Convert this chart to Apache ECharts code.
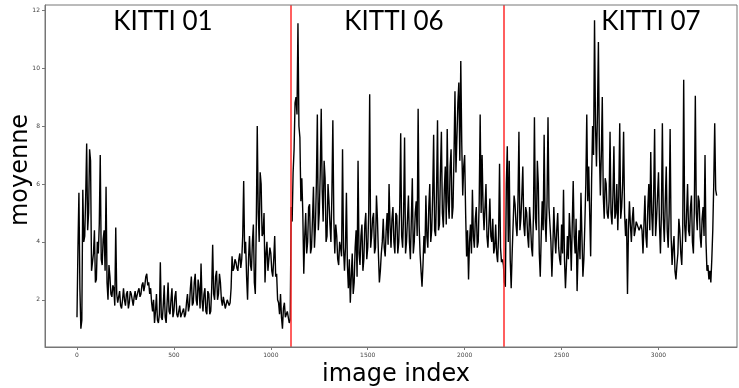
<!DOCTYPE html>
<html><head><meta charset="utf-8">
<script src="https://cdn.jsdelivr.net/npm/echarts@6/dist/echarts.min.js"></script>
<style>html,body{margin:0;padding:0;background:#fff}#c{width:739px;height:388px}</style>
</head><body><div id="c"></div>
<script>
const STEP = 5;
// KITTI 01: image index 0 .. 1100
const kitti01 = [1.4,3.8,5.7,2.4,1.0,1.3,5.8,4.0,4.2,5.6,7.4,4.4,5.0,7.2,6.8,3.0,3.0,3.6,4.4,2.6,
2.7,4.0,3.6,4.6,7.0,3.4,3.2,4.1,4.4,3.0,5.9,2.6,2.0,3.2,2.8,2.2,2.1,2.5,2.4,1.8,
4.5,2.2,1.9,2.1,2.3,1.8,1.7,2.0,2.4,2.0,1.8,2.2,2.3,1.7,1.9,2.3,2.2,2.0,1.8,2.1,
2.3,2.0,2.0,2.3,2.4,2.1,2.2,2.5,2.6,2.3,2.5,2.8,2.9,2.5,2.6,2.2,2.4,1.9,1.6,2.0,
1.2,1.6,2.2,1.3,1.2,1.5,3.3,1.4,1.3,1.8,2.5,1.4,1.2,1.9,2.6,1.6,1.5,2.0,2.4,1.4,
1.6,2.1,2.3,1.5,1.4,1.6,1.8,1.4,1.35,1.6,1.7,1.4,1.5,1.9,2.2,1.6,1.8,2.4,2.8,1.8,
1.9,2.6,2.9,2.0,1.8,2.7,2.4,1.7,3.25,2.0,1.6,2.2,2.4,1.6,1.5,2.3,2.2,1.5,1.6,2.4,
3.9,2.2,2.0,2.8,3.0,2.0,2.2,2.9,2.6,2.0,1.8,2.1,1.9,1.7,1.75,2.0,2.0,1.8,1.9,2.4,
3.5,3.0,3.1,3.4,3.3,3.1,3.0,3.4,3.6,3.1,3.4,4.2,6.1,3.6,4.0,2.8,2.0,3.4,4.2,3.2,
3.0,4.0,4.6,2.6,2.2,4.6,8.0,5.0,4.0,6.4,6.0,4.2,4.3,5.0,2.6,3.6,4.0,3.0,3.0,3.8,
3.6,3.0,2.8,3.4,4.2,2.8,2.9,2.0,1.9,1.5,2.2,1.4,1.0,1.7,1.9,1.4,1.5,1.6,1.4,1.2,
1.3];
// KITTI 06: image index 1105 .. 2200
const kitti06 = [5.2,4.7,6.4,7.2,8.8,9.0,8.4,11.55,8.0,7.6,5.4,6.2,5.0,2.9,4.2,5.0,3.6,4.0,5.2,5.3,
3.6,3.8,4.8,5.9,3.8,4.5,6.0,8.4,4.4,5.0,6.4,8.6,5.8,4.7,6.8,6.2,4.0,4.2,6.0,5.4,
4.6,4.0,5.6,8.2,4.8,3.6,4.6,4.2,3.4,3.2,4.0,3.8,3.5,7.2,3.8,3.0,3.8,5.7,3.2,2.4,
3.4,1.9,2.8,3.6,2.2,2.6,3.8,4.4,2.8,6.8,3.6,3.2,4.2,4.6,3.0,3.4,4.6,5.0,3.4,3.8,
5.0,9.1,3.8,4.2,4.8,5.0,3.6,3.8,5.6,4.8,3.6,2.6,3.0,3.6,4.0,4.8,3.8,3.5,4.4,5.0,
3.9,6.0,4.6,3.8,4.8,5.2,4.0,3.6,5.0,4.9,3.6,4.0,5.2,7.75,4.2,3.8,5.0,7.6,3.6,4.0,
4.8,5.6,4.0,3.4,4.8,6.2,3.6,4.0,5.0,5.4,4.2,8.6,4.6,3.6,3.0,2.45,3.2,4.2,3.6,5.6,
4.2,3.8,5.2,6.0,4.0,4.4,5.6,7.7,4.4,4.2,5.8,8.2,4.4,4.6,6.4,7.8,5.0,4.5,5.8,6.6,
4.6,7.9,5.4,4.8,6.6,7.2,4.8,5.2,7.0,9.2,6.4,7.6,8.8,9.5,6.8,10.25,7.4,5.6,6.6,7.0,
5.0,3.5,4.4,2.7,4.0,4.6,3.6,5.8,4.2,3.8,4.8,5.2,3.8,4.0,5.4,8.4,5.0,7.0,5.2,4.4,
5.2,6.0,4.2,3.8,4.6,5.5,4.2,4.0,4.8,3.6,3.8,4.6,3.6,3.3,4.2,6.7,3.8,3.3,3.4,3.2];
// KITTI 07: image index 2205 .. 3300
const kitti07 = [2.6,2.45,6.0,7.3,4.0,6.8,3.4,2.4,3.6,4.6,5.6,5.3,4.6,4.2,5.4,7.8,4.4,4.8,5.6,6.6,
4.6,4.2,5.2,5.0,4.2,3.8,5.2,4.6,3.8,3.5,5.0,8.3,4.8,4.4,6.8,6.0,3.6,2.8,4.2,5.4,
4.4,7.7,4.8,4.0,5.4,8.3,5.2,4.6,4.0,2.8,3.8,5.2,4.2,3.6,4.4,5.0,3.8,3.4,3.2,4.6,
3.6,5.8,3.4,2.4,3.2,4.2,3.4,5.0,4.2,3.0,4.6,6.1,4.2,3.6,4.8,2.3,3.6,4.4,3.4,5.7,
4.2,2.8,3.4,4.6,6.0,8.4,5.4,6.6,5.0,3.5,6.2,8.0,7.0,11.65,8.0,6.6,8.4,10.9,7.2,5.6,
7.0,9.0,5.6,4.8,6.2,6.0,5.0,4.8,5.4,7.8,5.0,4.6,5.6,7.3,4.8,5.0,6.0,4.4,5.6,8.1,
4.8,5.2,6.0,7.8,5.0,4.2,4.8,2.2,4.4,5.4,4.6,4.0,4.8,5.2,4.2,4.4,4.7,4.6,4.5,4.4,
4.5,4.6,4.4,3.6,4.6,5.6,4.2,3.8,5.2,6.0,4.4,7.1,5.0,4.2,5.6,7.9,4.2,4.8,5.6,6.4,
4.6,3.6,5.0,8.1,4.8,4.0,5.4,6.6,4.4,3.8,5.0,7.9,4.2,3.2,3.8,4.2,3.0,2.7,3.2,3.6,
4.8,4.4,3.6,3.2,4.4,9.6,4.6,4.0,5.0,6.0,4.4,4.2,5.2,5.6,4.0,3.6,5.2,9.05,5.0,4.4,
5.6,5.4,4.2,3.8,4.8,5.2,4.2,7.0,4.0,3.0,3.2,2.7,3.0,2.6,3.4,4.4,6.0,8.1,5.8,5.6];
const boundaries = [1101, 2202];
const sequenceLabels = ['KITTI 01', 'KITTI 06', 'KITTI 07'];
const xTicks = [0, 500, 1000, 1500, 2000, 2500, 3000];
const yTicks = [2, 4, 6, 8, 10, 12];
const xName = 'image index';
const yName = 'moyenne';

const values = kitti01.concat(kitti06, kitti07);
const data = values.map((v, i) => [i * STEP, v]);

const chart = echarts.init(document.getElementById('c'), null, {renderer: 'canvas'});
const labelX = [163, 394, 651];
chart.setOption({
  animation: false,
  backgroundColor: '#fff',
  grid: {left: 45, right: 2, top: 5, bottom: 41, containLabel: false, outerBoundsMode: 'none'},
  xAxis: {
    type: 'value', min: -165, max: 3405,
    name: xName, nameLocation: 'middle', nameGap: 9,
    nameTextStyle: {fontFamily: 'DejaVu Sans', fontSize: 24, color: '#000', verticalAlign: 'top', padding: [0, 0, 0, 10]},
    axisLine: {onZero: false, lineStyle: {color: '#777', width: 1}},
    axisTick: {show: true, length: 3, lineStyle: {color: '#777'}, customValues: xTicks},
    axisLabel: {customValues: xTicks, formatter: v => String(v), fontFamily: 'DejaVu Sans', fontSize: 6, color: '#444', margin: 5},
    splitLine: {show: false}
  },
  yAxis: {
    type: 'value', min: 0.37, max: 12.18,
    axisLine: {show: true, onZero: false, lineStyle: {color: '#777', width: 1}},
    axisTick: {show: true, length: 3, lineStyle: {color: '#777'}, customValues: yTicks},
    axisLabel: {customValues: yTicks, formatter: v => String(v), fontFamily: 'DejaVu Sans', fontSize: 6, color: '#444', margin: 5},
    splitLine: {show: false}
  },
  graphic: [
    {type: 'rect', shape: {x: 45, y: 5, width: 692, height: 342}, style: {fill: 'none', stroke: '#777', lineWidth: 1}, silent: true, z: 10},
    {type: 'text', x: 21, y: 170, rotation: Math.PI / 2, z: 20,
     style: {text: yName, fontFamily: 'DejaVu Sans', fontSize: 24, fill: '#000', align: 'center', verticalAlign: 'middle'}}
  ].concat(sequenceLabels.map((t, i) => ({
    type: 'text', x: labelX[i], y: 9, z: 20,
    style: {text: t, fontFamily: 'Lato', fontSize: 26, fill: '#000', align: 'center', verticalAlign: 'top'}
  }))),
  series: [{
    type: 'line', data: data, showSymbol: false, symbol: 'none',
    lineStyle: {color: '#000', width: 1.4}, z: 3,
    markLine: {
      silent: true, symbol: 'none', label: {show: false},
      lineStyle: {color: '#ff2a2a', width: 1.5, type: 'solid'},
      data: boundaries.map(b => ({xAxis: b}))
    }
  }]
});
</script>
</body></html>
